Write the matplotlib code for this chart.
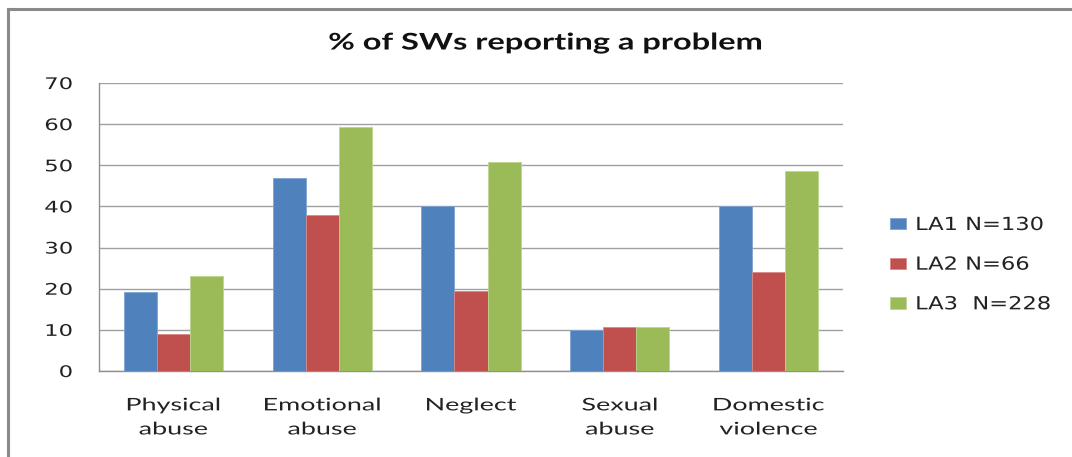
import matplotlib
matplotlib.use("Agg")
import matplotlib.pyplot as plt
import numpy as np
from matplotlib.lines import Line2D
from matplotlib.patheffects import AbstractPathEffect
from matplotlib.transforms import Affine2D

categories = ["Physical\nabuse", "Emotional\nabuse", "Neglect", "Sexual\nabuse", "Domestic\nviolence"]
series_names = ["LA1 N=130", "LA2 N=66", "LA3  N=228"]
la1 = [19.3, 46.8, 40.0, 10.0, 40.0]
la2 = [9.1, 37.8, 19.5, 10.6, 24.0]
la3 = [23.1, 59.4, 50.9, 10.6, 48.6]
colors = ["#4F81BD", "#C0504D", "#9BBB59"]
edge_colors = ["#7FA3D3", "#D88A88", "#BCD58E"]
yticks = [0, 10, 20, 30, 40, 50, 60, 70]
title = "% of SWs reporting a problem"


class HStretch(AbstractPathEffect):
    """Horizontally widen text glyphs (the reference image is stretched)."""
    def __init__(self, sx, anchor="center"):
        super().__init__()
        self.sx = sx
        self.anchor = anchor

    def draw_path(self, renderer, gc, tpath, affine, rgbFace=None):
        ext = tpath.get_extents()
        if self.anchor == "left":
            px = 0.0
        elif self.anchor == "right":
            px = ext.x1
        else:
            px = (ext.x0 + ext.x1) / 2.0
        x0, _ = affine.transform((px, 0.0))
        m = Affine2D(affine.get_matrix().copy())
        m.translate(-x0, 0).scale(self.sx, 1.0).translate(x0, 0)
        renderer.draw_path(gc, tpath, m, rgbFace)


fig = plt.figure(figsize=(10.72, 4.57), dpi=100)
ax = fig.add_axes([99/1072, 1-371/457, (843-99)/1072, (371-83)/457])

x = np.arange(len(categories))
w = 0.222
for i, (vals, c, ec, name) in enumerate(zip([la1, la2, la3], colors, edge_colors, series_names)):
    ax.bar(x + (i-1)*w, vals, width=w, color=c, edgecolor=ec, linewidth=0.6, label=name, zorder=3)

ax.set_xlim(-0.5, len(categories)-0.5)
ax.set_ylim(0, 70)
ax.set_yticks(yticks)
ax.set_yticklabels([str(v) for v in yticks], fontsize=11.5, family="DejaVu Sans", color="#222222")
for t in ax.get_yticklabels():
    t.set_path_effects([HStretch(1.42, "right")])
ax.yaxis.grid(True, color="#A0A0A0", linewidth=1.0, zorder=0)
ax.set_axisbelow(True)
ax.tick_params(axis="y", length=0, pad=19)
ax.set_xticks(x)
ax.set_xticklabels(categories, fontsize=12.5, family="Lato", linespacing=1.62, color="#222222")
for t in ax.get_xticklabels():
    t.set_path_effects([HStretch(1.55, "center")])
ax.tick_params(axis="x", length=0, pad=19)
for s in ["top", "right"]:
    ax.spines[s].set_visible(False)
for s in ["left", "bottom"]:
    ax.spines[s].set_color("#909090")
    ax.spines[s].set_linewidth(1.0)

tt = fig.text(545/1072, 1-43/457, title, ha="center", va="center", fontsize=16.5, family="Lato",
              fontweight="bold", color="#111111")
tt.set_path_effects([HStretch(1.42, "center")])

leg = fig.legend(loc="upper left", bbox_to_anchor=(890/1072, 1-216/457), frameon=False,
                 prop={"family": "DejaVu Sans", "size": 13}, handlelength=0.89, handleheight=0.61,
                 handletextpad=0.5, labelspacing=1.2, borderaxespad=0, borderpad=0)
for t in leg.get_texts():
    t.set_color("#222222")
    t.set_path_effects([HStretch(1.25, "left")])

# outer chart border (top and left)
fig.add_artist(Line2D([8/1072, 1.0], [1-9/457, 1-9/457], transform=fig.transFigure, color="#8A8A8A", linewidth=2.2))
fig.add_artist(Line2D([8/1072, 8/1072], [0, 1-9/457], transform=fig.transFigure, color="#8A8A8A", linewidth=2.2))

fig.savefig("out.png", dpi=100)
